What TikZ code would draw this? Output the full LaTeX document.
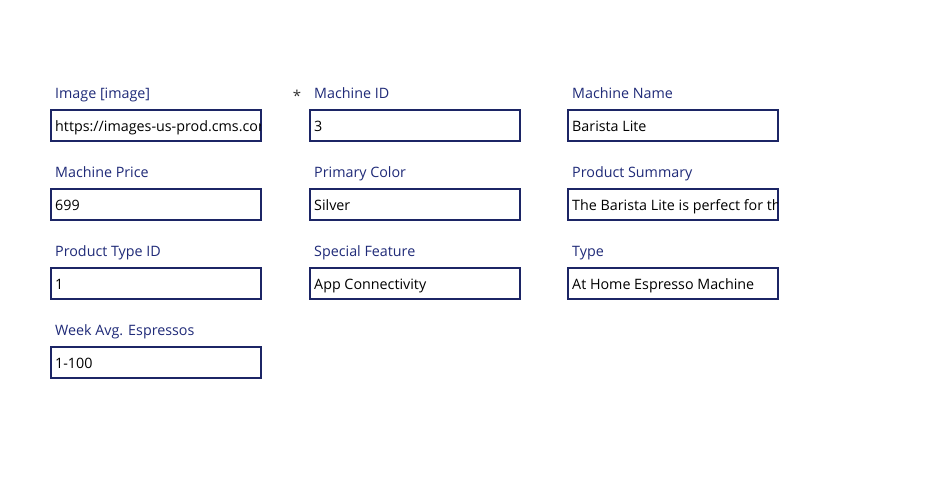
\documentclass[tikz,border=0pt]{standalone}
\usepackage{fontspec}
\setmainfont{Open Sans}
\definecolor{navy}{HTML}{1F2A78}
\definecolor{boxline}{HTML}{1C2565}
\tikzset{
  lbl/.style={anchor=base west, inner sep=0pt, text=navy, font=\fontsize{14.3}{16}\selectfont},
  val/.style={anchor=base west, inner sep=0pt, text=black, font=\fontsize{14.3}{16}\selectfont},
  fbox/.style={draw=boxline, line width=2pt, fill=white},
}
\newcommand\formfield[5]{%
  % #1 name, #2 left x, #3 top y, #4 label, #5 value
  \node[lbl] (#1-label) at (#2+5,#3-11) {#4};
  \draw[fbox] (#2+1,#3+1) rectangle (#2+211,#3+32);
  \begin{scope}
    \clip (#2+2,#3+2) rectangle (#2+210,#3+31);
    \node[val] (#1-value) at (#2+5,#3+22) {#5};
  \end{scope}
}
\begin{document}
\begin{tikzpicture}[x=1pt,y=-1pt]
\useasboundingbox[fill=white] (0,0) rectangle (945,496);
\formfield{img}{50}{109}{Image [image]}{https://images-us-prod.cms.cor}
\formfield{mid}{309}{109}{Machine ID}{3}
\formfield{mname}{567}{109}{Machine Name}{Barista Lite}
\formfield{price}{50}{188}{Machine Price}{699}
\formfield{color}{309}{188}{Primary Color}{Silver}
\formfield{summary}{567}{188}{Product Summary}{The Barista Lite is perfect for th}
\formfield{ptype}{50}{267}{Product Type ID}{1}
\formfield{feature}{309}{267}{Special Feature}{App Connectivity}
\formfield{type}{567}{267}{Type}{At Home Espresso Machine}
\formfield{week}{50}{346}{Week Avg. Espressos}{1-100}
\node[anchor=base, inner sep=0pt, text=black!80, font=\fontsize{15}{16}\selectfont] (req) at (297,101) {*};
\end{tikzpicture}
\end{document}
